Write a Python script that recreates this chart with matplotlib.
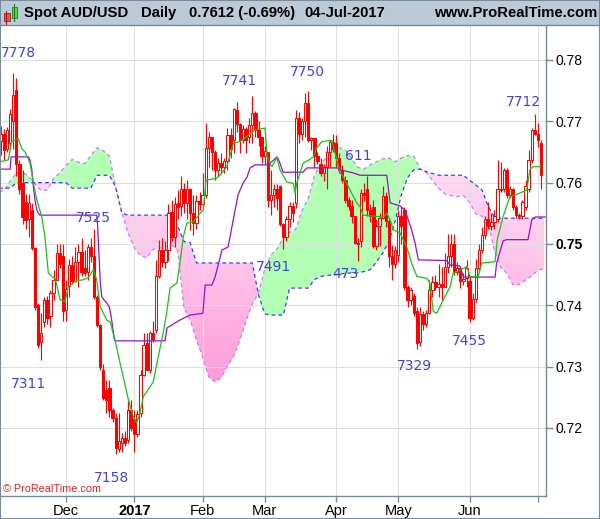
import numpy as np
import matplotlib
matplotlib.use('Agg')
import matplotlib.pyplot as plt
from matplotlib.patches import Rectangle
from matplotlib.path import Path
from matplotlib.colors import LinearSegmentedColormap

plt.rcParams['font.family'] = ['Liberation Sans', 'DejaVu Sans']

# daily bars, index 0 = 01-Nov-2016 ... index 175 = 04-Jul-2017
opens = [
    .7655, .7668, .7680, .7655, .7664, .7700, .7751, .7631, .7600, .7569,
    .7540, .7555, .7493, .7400, .7340, .7372, .7408, .7382, .7420, .7441,
    .7485, .7480, .7392, .7432, .7465, .7440, .7470, .7487, .7460, .7455,
    .7495, .7480, .7414, .7368, .7295, .7262, .7265, .7230, .7216, .7165,
    .7175, .7184, .7180, .7230, .7215, .7190, .7224, .7287, .7338, .7295,
    .7355, .7360, .7447, .7490, .7470, .7490, .7552, .7512, .7566, .7562,
    .7590, .7566, .7590, .7550, .7534, .7570, .7565, .7580, .7656, .7675,
    .7650, .7621, .7632, .7625, .7635, .7678, .7670, .7718, .7695, .7670,
    .7688, .7675, .7694, .7713, .7685, .7675, .7643, .7650, .7572, .7580,
    .7590, .7594, .7532, .7512, .7540, .7562, .7566, .7705, .7680, .7700,
    .7730, .7670, .7672, .7643, .7630, .7615, .7625, .7650, .7667, .7665,
    .7640, .7621, .7605, .7572, .7562, .7545, .7502, .7505, .7583, .7590,
    .7556, .7560, .7496, .7530, .7543, .7578, .7537, .7480, .7468, .7482,
    .7545, .7555, .7430, .7409, .7415, .7390, .7340, .7385, .7370, .7387,
    .7425, .7438, .7430, .7435, .7430, .7463, .7480, .7500, .7455, .7460,
    .7440, .7445, .7440, .7380, .7410, .7460, .7490, .7515, .7540, .7530,
    .7535, .7540, .7590, .7590, .7620, .7580, .7590, .7560, .7548, .7545,
    .7560, .7590, .7637, .7685, .7680, .7665]
highs = [
    .7690, .7692, .7688, .7690, .7720, .7778, .7770, .7637, .7620, .7582,
    .7582, .7566, .7495, .7403, .7387, .7414, .7415, .7425, .7457, .7500,
    .7500, .7500, .7441, .7475, .7480, .7495, .7500, .7510, .7490, .7500,
    .7510, .7525, .7417, .7370, .7305, .7278, .7278, .7232, .7224, .7224,
    .7192, .7195, .7245, .7245, .7230, .7230, .7295, .7355, .7355, .7358,
    .7375, .7474, .7506, .7510, .7505, .7565, .7571, .7577, .7588, .7610,
    .7600, .7604, .7592, .7580, .7580, .7585, .7615, .7697, .7683, .7675,
    .7653, .7640, .7648, .7640, .7689, .7689, .7721, .7732, .7697, .7694,
    .7691, .7705, .7741, .7716, .7700, .7675, .7660, .7650, .7620, .7597,
    .7597, .7596, .7534, .7545, .7569, .7569, .7718, .7715, .7705, .7746,
    .7750, .7675, .7672, .7650, .7640, .7630, .7659, .7670, .7680, .7677,
    .7648, .7628, .7610, .7577, .7572, .7545, .7510, .7590, .7600, .7611,
    .7565, .7572, .7540, .7550, .7594, .7585, .7540, .7498, .7496, .7555,
    .7560, .7560, .7433, .7430, .7420, .7398, .7398, .7390, .7393, .7441,
    .7447, .7450, .7468, .7463, .7485, .7517, .7517, .7517, .7470, .7460,
    .7452, .7474, .7447, .7420, .7475, .7500, .7528, .7545, .7568, .7550,
    .7555, .7637, .7634, .7624, .7624, .7594, .7592, .7563, .7550, .7572,
    .7605, .7653, .7689, .7712, .7697, .7670]
lows = [
    .7640, .7645, .7637, .7650, .7655, .7655, .7610, .7582, .7533, .7525,
    .7512, .7490, .7392, .7330, .7311, .7365, .7370, .7365, .7408, .7441,
    .7460, .7375, .7375, .7414, .7435, .7438, .7430, .7447, .7447, .7441,
    .7470, .7410, .7365, .7295, .7245, .7224, .7218, .7210, .7158, .7160,
    .7160, .7170, .7175, .7195, .7160, .7185, .7218, .7284, .7295, .7290,
    .7340, .7355, .7444, .7462, .7460, .7472, .7505, .7495, .7540, .7545,
    .7550, .7540, .7523, .7515, .7525, .7555, .7560, .7575, .7626, .7621,
    .7605, .7610, .7615, .7615, .7621, .7640, .7648, .7683, .7648, .7664,
    .7648, .7664, .7664, .7675, .7659, .7632, .7630, .7561, .7547, .7561,
    .7555, .7530, .7491, .7504, .7528, .7536, .7558, .7665, .7670, .7675,
    .7667, .7653, .7626, .7630, .7610, .7602, .7590, .7625, .7650, .7626,
    .7615, .7600, .7566, .7556, .7534, .7500, .7473, .7495, .7570, .7545,
    .7535, .7493, .7490, .7496, .7540, .7528, .7463, .7441, .7460, .7470,
    .7500, .7425, .7398, .7400, .7382, .7329, .7333, .7360, .7365, .7385,
    .7414, .7425, .7414, .7409, .7430, .7452, .7463, .7450, .7450, .7428,
    .7433, .7430, .7373, .7376, .7405, .7455, .7485, .7508, .7525, .7522,
    .7525, .7535, .7585, .7585, .7575, .7575, .7555, .7542, .7540, .7540,
    .7556, .7585, .7632, .7678, .7658, .7590]
closes = [
    .7668, .7680, .7653, .7685, .7712, .7743, .7631, .7590, .7544, .7539,
    .7566, .7493, .7398, .7335, .7355, .7408, .7380, .7420, .7441, .7485,
    .7468, .7390, .7426, .7465, .7440, .7470, .7487, .7455, .7452, .7495,
    .7480, .7414, .7368, .7300, .7248, .7246, .7230, .7216, .7167, .7178,
    .7184, .7176, .7230, .7200, .7190, .7222, .7287, .7335, .7295, .7355,
    .7345, .7447, .7490, .7470, .7490, .7550, .7512, .7565, .7560, .7590,
    .7566, .7590, .7550, .7534, .7570, .7565, .7580, .7656, .7675, .7650,
    .7621, .7632, .7625, .7635, .7678, .7655, .7720, .7695, .7670, .7688,
    .7670, .7694, .7713, .7685, .7675, .7643, .7652, .7572, .7580, .7590,
    .7575, .7532, .7512, .7540, .7562, .7550, .7705, .7680, .7700, .7730,
    .7670, .7672, .7643, .7636, .7615, .7625, .7650, .7667, .7655, .7640,
    .7621, .7604, .7572, .7562, .7545, .7502, .7500, .7583, .7580, .7556,
    .7545, .7496, .7530, .7543, .7578, .7537, .7480, .7468, .7490, .7545,
    .7530, .7430, .7409, .7425, .7387, .7338, .7385, .7370, .7387, .7425,
    .7438, .7430, .7435, .7430, .7463, .7480, .7500, .7455, .7460, .7440,
    .7443, .7460, .7380, .7410, .7460, .7490, .7515, .7540, .7530, .7535,
    .7545, .7590, .7588, .7620, .7580, .7590, .7560, .7548, .7545, .7568,
    .7595, .7637, .7685, .7680, .7670, .7612]

# ichimoku cloud (senkou spans), sampled every second bar
cloud_x = list(range(0, 177, 2))
span_a = [
    .7583, .7588, .7602, .7616, .7617, .7610, .7598, .7587, .7588, .7607,
    .7616, .7628, .7638, .7633, .7631, .7644, .7657, .7652, .7643, .7592,
    .7551, .7518, .7494, .7481, .7477, .7491, .7493, .7495, .7499, .7489,
    .7395, .7376, .7343, .7316, .7283, .7275, .7282, .7301, .7317, .7343,
    .7374, .7402, .7420, .7459, .7482, .7492, .7510, .7519, .7524, .7554,
    .7574, .7611, .7630, .7642, .7651, .7657, .7653, .7639, .7625, .7622,
    .7629, .7634, .7639, .7640, .7634, .7640, .7644, .7643, .7623, .7616,
    .7604, .7591, .7582, .7579, .7577, .7579, .7568, .7549, .7545, .7533,
    .7489, .7462, .7452, .7433, .7434, .7441, .7448, .7457, .7460]
span_b = [
    .7591, .7591, .7591, .7600, .7600, .7600, .7600, .7600, .7600, .7600,
    .7600, .7600, .7591, .7591, .7591, .7591, .7612, .7612, .7612, .7593,
    .7550, .7547, .7547, .7547, .7547, .7547, .7547, .7547, .7547, .7529,
    .7504, .7502, .7469, .7469, .7469, .7469, .7469, .7469, .7469, .7469,
    .7469, .7469, .7417, .7386, .7384, .7384, .7384, .7428, .7428, .7428,
    .7428, .7442, .7447, .7449, .7449, .7451, .7452, .7453, .7453, .7455,
    .7458, .7471, .7485, .7504, .7537, .7580, .7608, .7621, .7622, .7618,
    .7615, .7612, .7612, .7612, .7612, .7612, .7604, .7596, .7588, .7561,
    .7544, .7542, .7542, .7542, .7542, .7542, .7542, .7542, .7542]

# tenkan (green) and kijun (purple) lines, read as vertices
tenkan_x = [0.7, 3.4, 4.5, 6.6, 7.7, 8.8, 10.4, 11.5, 12.6, 14.2,
            15.2, 16.3, 17.4, 18.5, 20.1, 21.7, 22.7, 25.5, 27.1, 29.2,
            30.8, 31.9, 33.0, 35.1, 36.2, 37.8, 39.4, 42.1, 43.7, 44.8,
            45.8, 46.9, 50.1, 51.7, 53.3, 54.4, 55.5, 57.7, 58.7, 59.8,
            60.9, 63.0, 65.2, 66.2, 67.1, 70.5, 71.6, 73.8, 75.9, 78.0,
            80.2, 82.9, 86.1, 86.8, 88.3, 89.9, 90.9, 93.1, 95.2, 95.8,
            96.3, 97.4, 98.4, 100.6, 101.7, 102.7, 104.4, 107.6, 109.2, 110.3,
            111.3, 113.5, 115.6, 116.7, 117.7, 124.1, 125.3, 126.4, 127.4, 129.6,
            130.6, 131.7, 133.3, 135.0, 138.2, 139.2, 140.3, 141.4, 142.5, 143.5,
            145.7, 146.7, 147.8, 151.1, 152.1, 154.8, 155.9, 160.2, 160.9, 162.8,
            165.0, 168.2, 170.4, 170.9, 171.4, 172.5, 175.0]
tenkan_y = [.7634, .7637, .7667, .7672, .7656, .7650, .7632, .7599, .7572, .7544,
            .7512, .7453, .7447, .7444, .7409, .7406, .7430, .7441, .7441, .7445,
            .7458, .7441, .7398, .7376, .7373, .7343, .7306, .7246, .7218, .7208,
            .7224, .7251, .7275, .7316, .7355, .7387, .7428, .7436, .7469, .7512,
            .7534, .7536, .7550, .7555, .7604, .7607, .7612, .7626, .7664, .7667,
            .7675, .7686, .7689, .7642, .7626, .7641, .7621, .7601, .7599, .7583,
            .7599, .7616, .7632, .7638, .7642, .7656, .7667, .7669, .7637, .7616,
            .7610, .7588, .7567, .7561, .7547, .7544, .7550, .7539, .7523, .7518,
            .7507, .7496, .7469, .7447, .7444, .7436, .7390, .7387, .7398, .7409,
            .7430, .7453, .7455, .7463, .7447, .7447, .7469, .7471, .7507, .7545,
            .7577, .7583, .7588, .7604, .7621, .7626, .7626]
kijun_x = [0.7, 4.0, 4.3, 9.9, 10.4, 11.0, 11.5, 12.0, 12.6, 13.1,
           13.6, 31.9, 32.2, 32.6, 33.0, 33.5, 34.2, 35.1, 36.0, 36.7,
           37.6, 37.8, 53.9, 54.5, 58.7, 61.9, 66.1, 66.8, 69.0, 70.0,
           71.6, 72.2, 74.2, 74.8, 77.4, 79.0, 80.3, 81.3, 82.9, 87.1,
           90.0, 90.9, 91.9, 98.3, 99.6, 109.3, 110.3, 114.4, 116.7, 125.3,
           126.4, 129.6, 131.2, 133.3, 134.4, 135.5, 144.6, 145.7, 148.9, 150.0,
           160.2, 160.7, 162.8, 163.9, 170.8, 172.0, 173.1, 176.3]
kijun_y = [.7622, .7622, .7642, .7642, .7637, .7621, .7593, .7572, .7555, .7550,
           .7547, .7547, .7528, .7485, .7441, .7414, .7409, .7404, .7397, .7376,
           .7343, .7342, .7342, .7363, .7376, .7384, .7387, .7433, .7433, .7446,
           .7477, .7490, .7495, .7511, .7580, .7599, .7609, .7624, .7629, .7629,
           .7642, .7632, .7617, .7617, .7624, .7624, .7621, .7616, .7612, .7612,
           .7567, .7562, .7555, .7523, .7502, .7474, .7473, .7466, .7464, .7446,
           .7446, .7469, .7505, .7507, .7507, .7539, .7544, .7544]

# swing labels
label_txt = ['7778', '7311', '7525', '7158', '7741', '7491', '7750',
             '473', '611', '7329', '7455', '7712']
label_x = [6.8, 9.9, 30.9, 36.7, 77.9, 88.8, 99.9, 111.9, 116.3, 134.1, 152.0, 169.2]
label_y = [.7811, .7272, .7543, .7118, .7766, .7462, .7780, .7451, .7644, .7301, .7342, .7731]

month_pos = [22, 44, 66, 86, 109, 129, 152, 174]
month_lbl = ['Dec', '2017', 'Feb', 'Mar', 'Apr', 'May', 'Jun', '']
price_ticks = [0.72, 0.73, 0.74, 0.75, 0.76, 0.77, 0.78]

W, H = 600, 519
fig = plt.figure(figsize=(W / 100, H / 100), dpi=100)
fig.patch.set_facecolor('white')
ax = fig.add_axes([0, 23 / H, 546 / W, 470 / H])
ax.set_axisbelow('line')

frame = '#7b8a97'

# cloud
a = np.array(span_a)
b = np.array(span_b)
cx = np.array(cloud_x)
ax.fill_between(cx, a, b, where=a >= b, interpolate=True,
                facecolor='#b3ffb3', edgecolor='none', zorder=1)
pink = ax.fill_between(cx, a, b, where=a < b, interpolate=True,
                       facecolor='none', edgecolor='none', zorder=1)
clip = Path.make_compound_path(*pink.get_paths())
grad = np.linspace(0, 1, 256).reshape(-1, 1)
pk = LinearSegmentedColormap.from_list('pk', ['#ffe2f5', '#ffc4ea', '#ff96d6'])
im = ax.imshow(grad, extent=[0, 177, 0.725, 0.768], origin='upper',
               cmap=pk, aspect='auto', zorder=1, interpolation='bilinear')
im.set_clip_path(clip, transform=ax.transData)

ax.plot(cx, a, color='#c77dff', lw=0.9, ls=(0, (3, 2.5)), zorder=2)
ax.plot(cx, b, color='#3c3cff', lw=0.9, ls=(0, (3, 2.5)), zorder=2)

# candles
o = np.array(opens)
h = np.array(highs)
l = np.array(lows)
c = np.array(closes)
idx = np.arange(len(c))
up = c >= o
ax.vlines(idx, l, h, color='#ff0000', lw=0.85, zorder=3)
ax.bar(idx[up], (c - o)[up], bottom=o[up], width=0.74, facecolor='white',
       edgecolor='#ff0000', lw=0.75, zorder=4)
ax.bar(idx[~up], (o - c)[~up], bottom=c[~up], width=0.74, facecolor='#ff0000',
       edgecolor='#ff0000', lw=0.75, zorder=4)

# tenkan / kijun
ax.plot(kijun_x, kijun_y, color='#9a10cc', lw=0.9, zorder=5)
ax.plot(tenkan_x, tenkan_y, color='#19c219', lw=0.9, zorder=5)

for t, x, y in zip(label_txt, label_x, label_y):
    ax.text(x, y, t, color='#4343d6', fontsize=10, family='DejaVu Sans',
            ha='center', va='center', zorder=6, clip_on=True)

ax.set_xlim(0.74, 176.6)
ax.set_ylim(0.7089, 0.78554)

ax.set_xticks(month_pos, labels=month_lbl)
for t in ax.get_xticklabels():
    if t.get_text() == '2017':
        t.set_fontweight('bold')
ax.yaxis.tick_right()
ax.set_yticks(price_ticks, labels=['%.2f' % p for p in price_ticks])
for t in ax.get_yticklabels():
    if t.get_text() == '0.75':
        t.set_fontweight('bold')
ax.tick_params(axis='x', length=4, width=1, color=frame, labelsize=10.5, pad=2)
ax.tick_params(axis='y', length=5, width=1, color=frame, labelsize=10, pad=1.5)
ax.grid(True, color='#dedede', lw=0.8)

for s in ['left', 'top']:
    ax.spines[s].set_visible(False)
for s in ['right', 'bottom']:
    ax.spines[s].set_color(frame)
    ax.spines[s].set_linewidth(1)

# header bar
fig.patches.append(Rectangle((0, 1 - 25 / H), 1, 25 / H, transform=fig.transFigure,
                             facecolor='#bacbd7', edgecolor='none', zorder=0))
fig.add_artist(plt.Line2D([0, 1], [1 - 25 / H, 1 - 25 / H], color=frame, lw=1))
# small candle icon
fig.add_artist(plt.Line2D([6.3 / W, 6.3 / W], [1 - 24 / H, 1 - 11 / H], color='#a02020', lw=0.8))
fig.patches.append(Rectangle((3.5 / W, 1 - 21 / H), 6 / W, 8 / H, transform=fig.transFigure,
                             facecolor='#f05050', edgecolor='#a02020', lw=0.6))
fig.add_artist(plt.Line2D([14.3 / W, 14.3 / W], [1 - 21 / H, 1 - 4 / H], color='#208020', lw=0.8))
fig.patches.append(Rectangle((11.5 / W, 1 - 18 / H), 5.6 / W, 11 / H, transform=fig.transFigure,
                             facecolor='#40e040', edgecolor='#208020', lw=0.6))

hy = 1 - 13 / H
hdr = dict(fontsize=10.7, fontweight='bold', color='black', va='center')
fig.text(24 / W, hy, 'Spot AUD/USD', ha='left', **hdr)
fig.text(141 / W, hy, 'Daily', ha='left', **hdr)
fig.text(189 / W, hy, '0.7612 (-0.69%)', ha='left', **hdr)
fig.text(304 / W, hy, '04-Jul-2017', ha='left', **hdr)
fig.text(597 / W, hy, 'www.ProRealTime.com', ha='right', **hdr)

fig.text(3 / W, 1 - 489 / H, '\u00a9 ProRealTime.com', color='#e2231f',
         fontsize=7.8, ha='left', va='center')

fig.patches.append(Rectangle((0, 0), 1, 1, transform=fig.transFigure, fill=False,
                             edgecolor=frame, lw=1.5, zorder=10))

fig.savefig('out.png', dpi=100)
